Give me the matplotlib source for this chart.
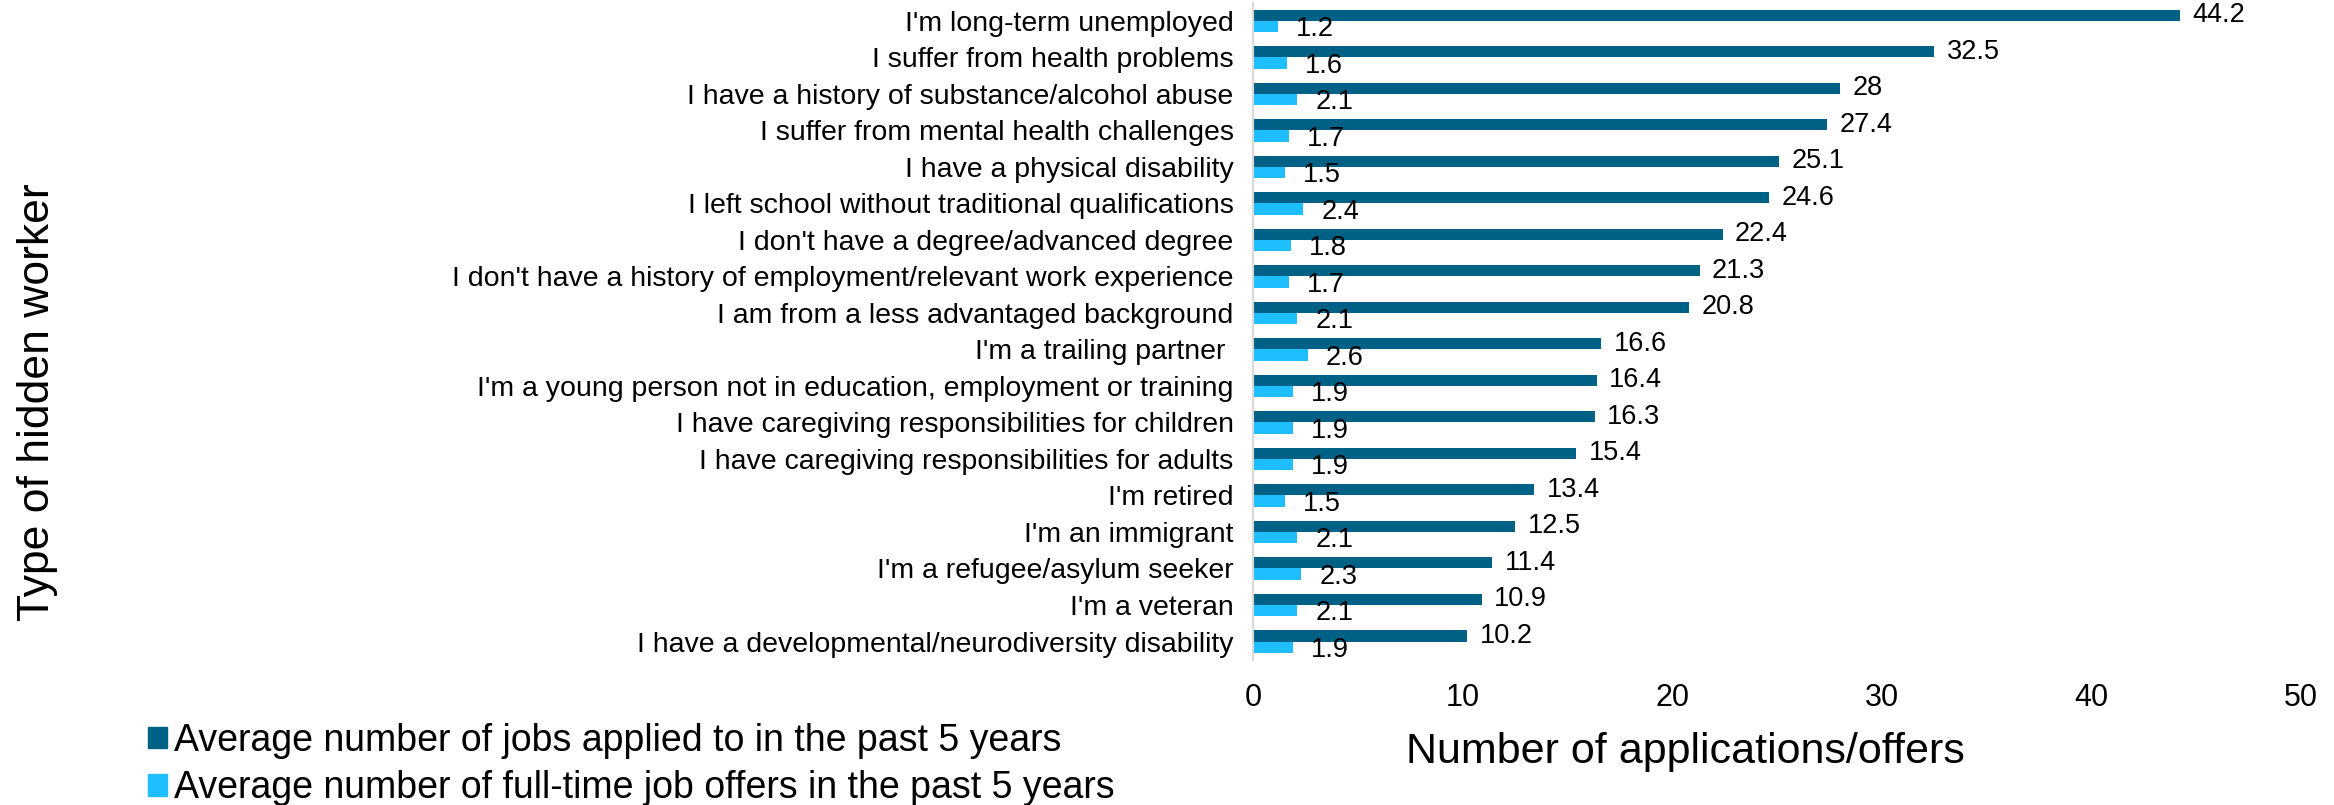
"""Horizontal grouped bar chart: job applications vs. full-time offers by type of hidden worker"""

import numpy as np
import matplotlib
matplotlib.use("Agg")
import matplotlib.pyplot as plt
from matplotlib.patches import Patch

plt.rcParams['font.family'] = ['Liberation Sans', 'DejaVu Sans']

# categories, top to bottom
worker_types = [
    "I'm long-term unemployed",
    "I suffer from health problems",
    "I have a history of substance/alcohol abuse",
    "I suffer from mental health challenges",
    "I have a physical disability",
    "I left school without traditional qualifications",
    "I don't have a degree/advanced degree",
    "I don't have a history of employment/relevant work experience",
    "I am from a less advantaged background",
    "I'm a trailing partner ",
    "I'm a young person not in education, employment or training",
    "I have caregiving responsibilities for children",
    "I have caregiving responsibilities for adults",
    "I'm retired",
    "I'm an immigrant",
    "I'm a refugee/asylum seeker",
    "I'm a veteran",
    "I have a developmental/neurodiversity disability",
]

jobs_applied = [44.2, 32.5, 28, 27.4, 25.1, 24.6, 22.4, 21.3, 20.8,
                16.6, 16.4, 16.3, 15.4, 13.4, 12.5, 11.4, 10.9, 10.2]
job_offers = [1.2, 1.6, 2.1, 1.7, 1.5, 2.4, 1.8, 1.7, 2.1,
              2.6, 1.9, 1.9, 1.9, 1.5, 2.1, 2.3, 2.1, 1.9]

series_names = ["Average number of jobs applied to in the past 5 years",
                "Average number of full-time job offers in the past 5 years"]
x_ticks = [0, 10, 20, 30, 40, 50]

DARK = '#006187'
LIGHT = '#1FBFFF'

fig = plt.figure(figsize=(23.34, 8.05), dpi=100)
ax = fig.add_axes([0.5369, 0.1804, 0.449, 0.8164])

y = np.arange(len(worker_types))
h = 0.31
ax.barh(y - h / 2, jobs_applied, height=h, color=DARK)
ax.barh(y + h / 2, job_offers, height=h, color=LIGHT)

# value labels just past the bar ends
for yi, v in zip(y, jobs_applied):
    ax.annotate(f"{v:g}", (v, yi - h / 2), xytext=(9, 0), textcoords='offset points',
                ha='left', va='center', fontsize=19.5)
for yi, v in zip(y, job_offers):
    ax.annotate(f"{v:g}", (v, yi + h / 2), xytext=(13, -2), textcoords='offset points',
                ha='left', va='center', fontsize=19.5)

ax.set_ylim(len(worker_types) - 0.5, -0.5)
ax.set_xlim(0, 50)
ax.set_yticks(y)
ax.set_yticklabels(worker_types, fontsize=20.5)
ax.set_xticks(x_ticks)
ax.set_xticklabels([str(t) for t in x_ticks], fontsize=22)
ax.tick_params(axis='both', length=0)
ax.tick_params(axis='x', pad=17)
ax.tick_params(axis='y', pad=14)

for side in ['top', 'right', 'bottom']:
    ax.spines[side].set_visible(False)
ax.spines['left'].set_color('#D9D9D9')
ax.spines['left'].set_linewidth(1.5)

fig.text(0.722, 0.066, "Number of applications/offers", ha='center', va='center', fontsize=31)
fig.text(0.016, 0.50, "Type of hidden worker", ha='center', va='center',
         rotation=90, fontsize=32)

handles = [Patch(color=DARK), Patch(color=LIGHT)]
fig.legend(handles, series_names, loc='upper left', bbox_to_anchor=(0.0635, 0.102),
           frameon=False, fontsize=27, handlelength=0.5, handleheight=0.5,
           handletextpad=0.2, labelspacing=0.3, borderpad=0, borderaxespad=0)

fig.savefig("out.png", dpi=100)
